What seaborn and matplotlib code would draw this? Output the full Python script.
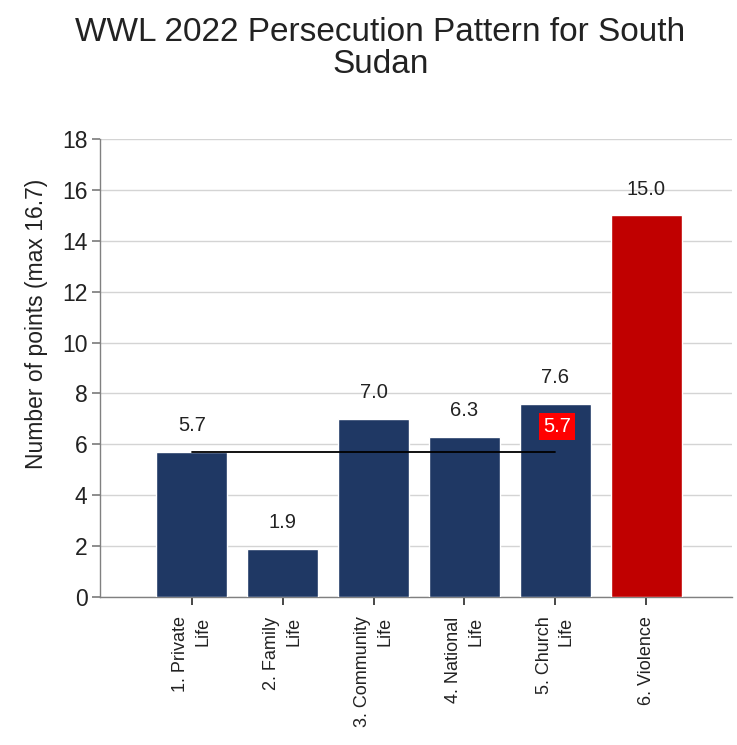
import matplotlib
matplotlib.use("Agg")
import matplotlib.pyplot as plt
import seaborn as sns
import pandas as pd

categories = ["1. Private\nLife", "2. Family\nLife", "3. Community\nLife",
              "4. National\nLife", "5. Church\nLife", "6. Violence"]
values = [5.7, 1.9, 7.0, 6.3, 7.6, 15.0]
bar_colors = ["#1f3864", "#1f3864", "#1f3864", "#1f3864", "#1f3864", "#c00000"]
average_value = 5.7
average_label = "5.7"
title = "WWL 2022 Persecution Pattern for South\nSudan"
ylabel = "Number of points (max 16.7)"
yticks = [0, 2, 4, 6, 8, 10, 12, 14, 16, 18]

sns.set_theme(style="white")
plt.rcParams['font.family'] = ['Liberation Sans', 'DejaVu Sans']

df = pd.DataFrame({"cat": categories, "val": values})

fig = plt.figure(figsize=(7.37, 7.45), dpi=100)
ax = fig.add_axes([0.1357, 0.1987, 0.857, 0.6147])

sns.barplot(data=df, x="cat", y="val", hue="cat", palette=bar_colors,
            legend=False, width=0.78, saturation=1, ax=ax, zorder=3)

ax.set_xlim(-1.01, 5.94)
ax.set_ylim(0, 18)
ax.set_yticks(yticks)
ax.set_yticklabels([str(t) for t in yticks], fontsize=16.5, color="#222222")
ax.yaxis.grid(True, color="#d4d4d4", linewidth=1, zorder=0)
ax.xaxis.grid(False)
ax.set_axisbelow(True)

for s in ["top", "right"]:
    ax.spines[s].set_visible(False)
for s in ["left", "bottom"]:
    ax.spines[s].set_color("#808080")
    ax.spines[s].set_linewidth(1)

ax.tick_params(axis="y", which="both", left=True, length=6, color="#808080", pad=3)
ax.tick_params(axis="x", which="both", bottom=True, length=6, color="#303030", pad=8)

ax.set_xticks(range(len(categories)))
ax.set_xticklabels(categories, rotation=90, fontsize=13, color="#222222",
                   multialignment="right", linespacing=1.4)
ax.set_xlabel("")
ax.set_ylabel(ylabel, fontsize=16.5, color="#222222")
ax.yaxis.set_label_coords(-0.083, 0.596)

for c in ax.containers:
    ax.bar_label(c, labels=[f"{b.get_height():.1f}" for b in c],
                 padding=12, fontsize=14.5, color="#222222")

# average line from first to fifth category
ax.plot([0, 4], [average_value, average_value], color="black", linewidth=1.3, zorder=4)
ax.text(4.02, average_value + 1.0, average_label, ha="center", va="center", fontsize=14.5,
        color="white", zorder=5,
        bbox=dict(boxstyle="square,pad=0.2", facecolor="#ff0000", edgecolor="none"))

fig.text(0.516, 0.935, title, ha="center", va="center", fontsize=24, color="#222222",
         linespacing=1.05)

fig.savefig("out.png", dpi=100, facecolor="white")
